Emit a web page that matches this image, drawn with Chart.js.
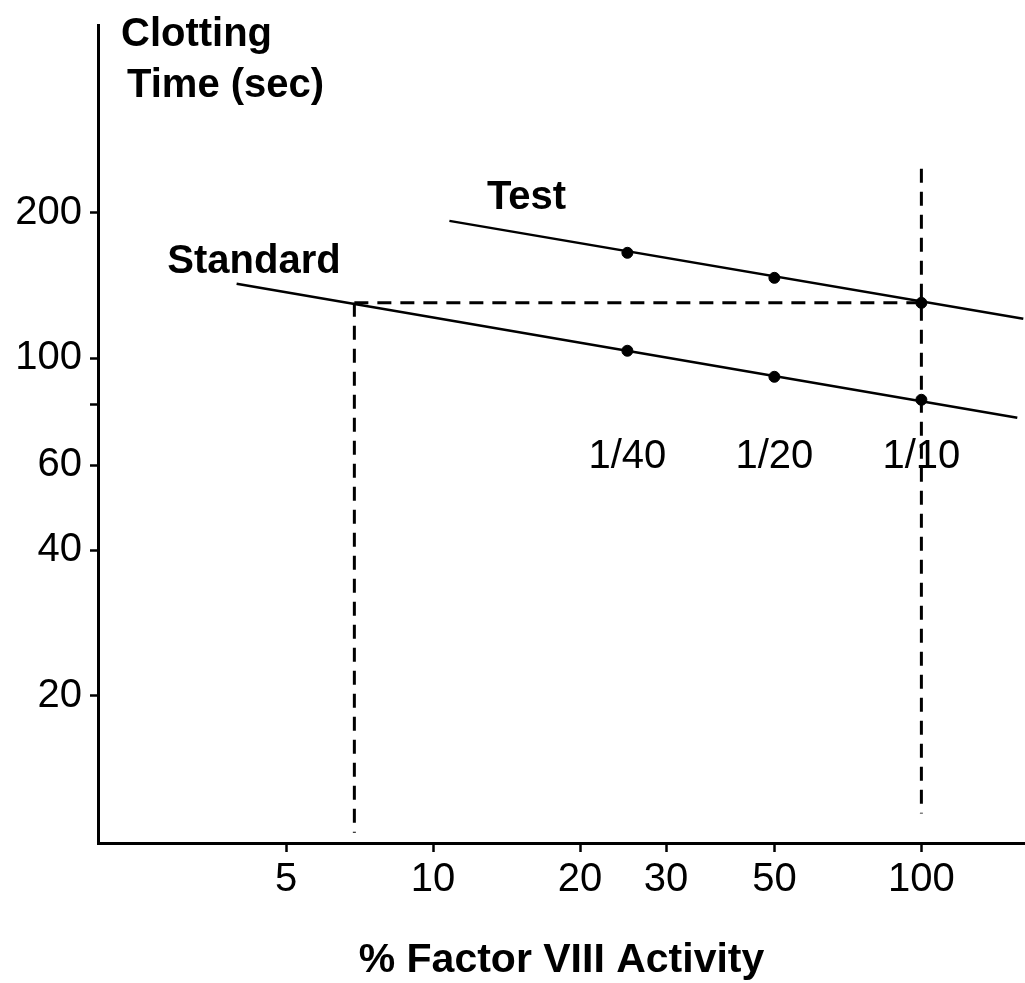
<!DOCTYPE html>
<html><head><meta charset="utf-8">
<script src="https://cdn.jsdelivr.net/npm/chart.js@4.4.1/dist/chart.umd.min.js"></script>
<style>html,body{margin:0;padding:0;background:#fff;} canvas{display:block;}</style>
</head><body>
<canvas id="c" width="1025" height="983"></canvas>
<script>
// ---- data ----
const dilutionLabels = ['1/40', '1/20', '1/10'];
const activityPct = [25, 50, 100];
const standardTimes = [103.6, 91.5, 82.0];
const testTimes = [165.3, 146.7, 130.2];
const standardLineX = [3.96, 157.2];
const standardLineY = [142.6, 75.3];
const testLineX = [10.8, 161.7];
const testLineY = [192.5, 120.7];
const readoutTime = 130.2;      // clotting time of test at 1/10
const readoutActivity = 6.9;    // % activity
const guide100Y = [246.7, 11.4];
const guideReadoutBottom = 10.4;
const xTickValues = [5, 10, 20, 30, 50, 100];
const xTickLabels = ['5', '10', '20', '30', '50', '100'];
const yTickValues = [20, 40, 60, 80, 100, 200];
const yTickLabels = ['20', '40', '60', '', '100', '200'];

const FONT = '"Liberation Sans", Arial, Helvetica, sans-serif';
const pts = (xs, ys) => xs.map((v, i) => ({x: v, y: ys[i]}));

const textPlugin = {
  id: 'texts',
  afterDatasetsDraw(chart) {
    const {ctx, scales: {x, y}, chartArea} = chart;
    ctx.save();
    ctx.fillStyle = '#000';
    ctx.textBaseline = 'alphabetic';
    ctx.textAlign = 'left';
    ctx.font = 'bold 40px ' + FONT;
    ctx.fillText('Clotting', chartArea.left + 23, 46);
    ctx.fillText('Time (sec)', chartArea.left + 29, 97);
    ctx.fillText('Standard', x.getPixelForValue(2.857), y.getPixelForValue(150.2));
    ctx.fillText('Test', x.getPixelForValue(12.89), y.getPixelForValue(203.9));
    ctx.font = '40px ' + FONT;
    ctx.textAlign = 'center';
    dilutionLabels.forEach((t, i) => {
      ctx.fillText(t, x.getPixelForValue(activityPct[i]), y.getPixelForValue(59.3));
    });
    ctx.restore();
  }
};

const lineDs = (data, dash, width) => ({
  data, showLine: true, borderColor: '#000', borderWidth: width,
  borderDash: dash, pointRadius: 0, fill: false, tension: 0
});
const dotDs = (data) => ({
  data, showLine: false, pointRadius: 5.5, pointHoverRadius: 5.5,
  pointBackgroundColor: '#000', pointBorderColor: '#000', pointBorderWidth: 1
});

new Chart(document.getElementById('c'), {
  type: 'scatter',
  data: {
    datasets: [
      lineDs(pts(standardLineX, standardLineY), [], 2.5),
      lineDs(pts(testLineX, testLineY), [], 2.5),
      dotDs(pts(activityPct, standardTimes)),
      dotDs(pts(activityPct, testTimes)),
      lineDs(pts([readoutActivity, 100], [readoutTime, readoutTime]), [14, 9], 3),
      lineDs(pts([readoutActivity, readoutActivity], [readoutTime, guideReadoutBottom]), [14, 9], 3),
      lineDs(pts([100, 100], guide100Y), [14, 9], 3)
    ]
  },
  options: {
    responsive: false,
    animation: false,
    layout: {autoPadding: false, padding: {top: 25, left: 0, right: 0, bottom: 0}},
    plugins: {legend: {display: false}, tooltip: {enabled: false}},
    scales: {
      x: {
        type: 'logarithmic', min: 2.06, max: 163, position: 'bottom',
        afterBuildTicks: s => { s.ticks = xTickValues.map(v => ({value: v})); },
        afterFit: s => { s.height = 140; s.paddingLeft = 0; s.paddingRight = 0; },
        ticks: {autoSkip: false, maxRotation: 0, padding: 4, color: '#000',
          font: {family: FONT, size: 40},
          callback: (v, i) => xTickLabels[i]},
        grid: {drawOnChartArea: false, drawTicks: true, tickLength: 9, tickColor: '#000', tickWidth: 2.5},
        border: {display: true, color: '#000', width: 3},
        title: {display: true, text: '% Factor VIII Activity', color: '#000',
          font: {family: FONT, size: 41, weight: 'bold', lineHeight: 1},
          padding: {top: 0, bottom: 2}}
      },
      y: {
        type: 'logarithmic', min: 9.9, max: 490, position: 'left',
        afterBuildTicks: s => { s.ticks = yTickValues.map(v => ({value: v})); },
        afterFit: s => { s.width = 98; s.paddingTop = 0; s.paddingBottom = 0; },
        ticks: {autoSkip: false, padding: 8, color: '#000',
          font: {family: FONT, size: 40},
          callback: (v, i) => yTickLabels[i]},
        grid: {drawOnChartArea: false, drawTicks: true, tickLength: 8, tickColor: '#000', tickWidth: 2.5},
        border: {display: true, color: '#000', width: 3}
      }
    }
  },
  plugins: [textPlugin]
});
</script>
</body></html>
